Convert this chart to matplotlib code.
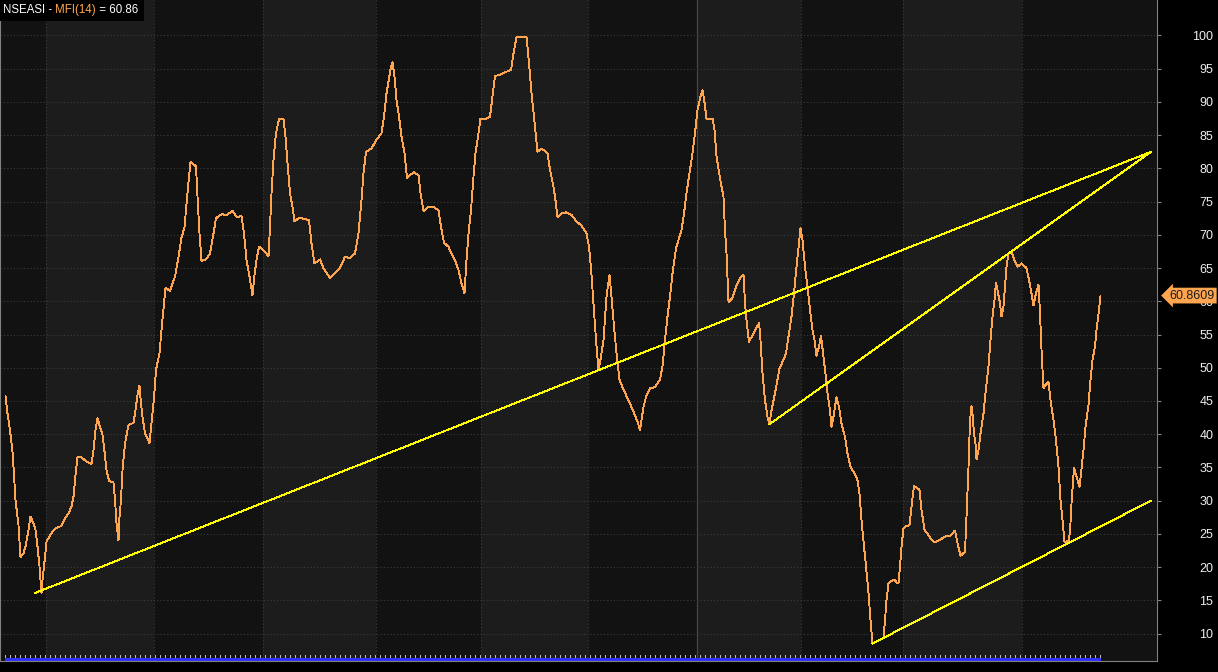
import numpy as np
import matplotlib.pyplot as plt
from matplotlib.patches import Rectangle
from matplotlib.text import Annotation
from matplotlib.transforms import blended_transform_factory

plt.rcParams['font.family'] = ['Liberation Sans', 'DejaVu Sans']

# MFI(14) of NSEASI, vertices: session index (one bar = 1) and value
session = [1.1, 1.5, 2.0, 2.5, 2.8, 3.1, 3.7, 4.1, 4.7, 5.1, 5.7, 6.1, 6.7, 7.1, 7.5, 7.9, 8.3, 8.5, 8.8,
           9.3, 10.0, 11.0, 12.3, 13.0, 13.7, 14.3, 14.7, 15.0, 15.5, 16.3, 17.3, 18.3, 18.7, 19.1,
           19.5, 20.0, 20.5, 20.9, 21.3, 21.8, 22.7, 23.0, 23.3, 23.7, 23.9, 24.2, 24.5, 25.0, 25.7,
           26.7, 27.0, 27.5, 27.9, 28.1, 28.5, 29.0, 29.5, 29.9, 30.3, 30.8, 31.2, 31.9, 32.3, 32.8,
           33.1, 34.0, 34.5, 35.0, 35.7, 36.3, 36.9, 37.3, 37.7, 38.1, 38.9, 39.2, 39.5, 39.9, 40.3,
           41.2, 42.0, 42.7, 43.2, 44.3, 45.3, 46.5, 47.3, 48.3, 48.8, 49.3, 49.9, 50.5, 50.9, 51.3,
           51.8, 52.7, 53.7, 54.0, 54.3, 54.7, 55.2, 55.8, 56.7, 57.1, 57.5, 58.0, 58.5, 58.9, 59.9,
           60.8, 61.8, 62.3, 62.9, 64.0, 64.7, 66.0, 67.0, 68.0, 69.0, 70.0, 71.0, 71.7, 72.3, 72.7,
           73.2, 74.3, 75.3, 76.3, 76.8, 77.3, 78.2, 78.5, 78.9, 79.3, 79.8, 80.3, 80.9, 81.4, 82.0,
           82.8, 83.7, 84.1, 84.7, 85.7, 86.7, 87.7, 88.2, 88.8, 89.7, 90.3, 91.0, 91.7, 92.3, 92.9,
           93.3, 93.7, 94.2, 94.7, 95.1, 95.7, 96.1, 97.1, 98.0, 98.5, 99.0, 100.0, 101.1, 102.2,
           102.7, 103.3, 105.3, 105.8, 106.3, 107.0, 107.5, 108.3, 109.5, 110.0, 110.7, 111.1, 111.5,
           112.3, 113.3, 114.3, 115.3, 116.3, 117.3, 117.8, 118.2, 118.7, 119.2, 119.7, 120.1, 120.7,
           121.3, 121.9, 122.3, 122.8, 123.3, 123.9, 124.7, 125.7, 126.7, 127.5, 128.0, 128.7, 129.3,
           130.0, 131.0, 132.0, 132.5, 133.0, 133.5, 134.0, 134.5, 135.2, 135.8, 136.3, 136.8, 137.3,
           137.9, 138.5, 139.0, 139.5, 140.0, 140.5, 140.8, 141.3, 142.5, 142.9, 143.3, 144.0, 144.7,
           145.0, 145.3, 145.7, 146.5, 147.2, 148.0, 148.7, 149.0, 149.3, 149.8, 150.7, 151.8, 152.0,
           152.5, 153.0, 153.5, 153.9, 154.3, 155.0, 155.9, 156.7, 157.2, 157.7, 158.3, 158.8, 159.3,
           159.8, 160.1, 160.5, 161.0, 161.5, 162.0, 162.5, 162.9, 163.3, 163.8, 164.2, 164.5, 165.0,
           165.5, 166.0, 166.3, 166.8, 167.3, 167.8, 168.3, 169.0, 169.5, 170.1, 170.9, 171.5, 171.9,
           172.3, 172.8, 173.2, 173.7, 174.1, 174.5, 175.3, 176.7, 177.0, 177.3, 177.7, 178.3, 178.9,
           179.3, 179.7, 180.0, 180.3, 180.7, 181.3, 181.9, 182.3, 182.8, 183.3, 183.9, 184.3, 184.9,
           185.7, 186.3, 187.0, 188.0, 189.0, 190.0, 191.0, 191.5, 192.1, 193.0, 193.3, 193.7, 194.0,
           194.3, 194.5, 194.8, 195.1, 195.3, 195.7, 196.1, 196.7, 197.1, 197.7, 198.1, 198.5, 198.9,
           199.2, 199.5, 200.0, 200.3, 200.7, 201.0, 201.3, 201.7, 202.3, 202.9, 203.5, 204.3, 205.3,
           205.8, 206.3, 206.7, 207.2, 207.7, 208.0, 208.3, 208.7, 209.1, 209.7, 210.1, 210.7, 211.2,
           211.7, 212.1, 212.5, 212.9, 213.7, 214.0, 214.3, 214.8, 215.2, 215.5, 215.9, 216.2, 216.7,
           217.1, 217.7, 218.1, 218.5, 219.0, 219.3, 219.8, 220.1]
mfi = [45.7, 43.1, 40.6, 37.4, 33.9, 30.1, 26.3, 21.5, 22.1, 23.1, 25.6, 27.6, 26.6, 25.6, 23.1, 20.1, 16.1, 18.1, 20.1,
       23.8, 24.8, 25.8, 26.2, 27.3, 28.1, 29.1, 30.6, 33.1, 36.6, 36.5, 35.9, 35.5, 37.6, 40.6,
       42.4, 41.1, 39.9, 37.4, 34.6, 33.0, 32.7, 30.1, 26.6, 24.0, 27.6, 30.1, 34.6, 38.6, 41.4,
       41.7, 43.1, 45.9, 47.3, 45.4, 42.6, 40.1, 39.4, 38.6, 41.6, 45.4, 49.7, 52.2, 55.7, 59.6,
       62.0, 61.6, 62.7, 63.7, 66.7, 69.6, 71.1, 74.7, 78.0, 81.0, 80.5, 80.3, 75.7, 70.2, 66.1,
       66.3, 67.2, 70.2, 72.5, 73.1, 73.0, 73.6, 72.7, 72.8, 70.2, 66.2, 63.7, 60.9, 64.0, 66.2,
       68.2, 67.7, 66.8, 71.2, 76.3, 81.3, 85.3, 87.4, 87.4, 84.8, 80.8, 76.3, 74.2, 72.0, 72.6,
       72.4, 72.2, 68.7, 65.7, 66.3, 65.0, 63.5, 64.2, 65.0, 66.7, 66.5, 67.2, 70.2, 75.2, 79.3,
       82.5, 83.0, 84.3, 85.3, 87.8, 91.3, 95.3, 96.0, 93.8, 90.3, 87.8, 84.8, 82.3, 78.6, 79.0,
       79.4, 79.0, 76.3, 73.6, 74.2, 74.2, 73.7, 71.2, 68.8, 68.2, 67.2, 66.2, 64.7, 62.7, 61.2,
       66.2, 70.2, 73.7, 78.8, 82.3, 85.3, 87.5, 87.4, 87.8, 90.8, 93.9, 94.1, 94.5, 94.8,
       97.3, 99.8, 99.8, 95.8, 91.3, 86.3, 82.5, 83.0, 82.3, 79.8, 77.2, 75.2, 72.7,
       73.2, 73.4, 73.0, 72.0, 71.4, 70.2, 68.2, 65.0, 59.7, 54.2, 49.7, 51.2, 54.2,
       60.7, 64.0, 60.7, 56.2, 52.2, 48.2, 46.7, 45.1, 43.4, 41.9, 40.6, 44.1, 45.9,
       46.9, 47.1, 48.2, 50.2, 54.2, 57.7, 60.7, 64.2, 68.0, 69.5, 70.7, 73.2, 76.3,
       79.3, 82.3, 85.3, 88.8, 90.5, 91.8, 90.5, 87.5, 87.5, 85.8, 81.8, 78.5, 75.7,
       70.7, 67.2, 59.9, 60.5, 62.2, 63.5, 64.0, 59.7, 57.2, 53.9, 55.2, 56.7, 55.3,
       49.2, 45.1, 42.6, 41.5, 43.6, 46.2, 49.9, 51.2, 52.2, 54.7, 57.7, 61.2, 65.2,
       68.7, 71.0, 69.2, 65.2, 62.2, 58.7, 55.7, 54.2, 51.8, 53.2, 54.8, 52.9, 49.7,
       46.2, 43.6, 41.1, 43.1, 45.6, 44.1, 41.6, 39.6, 37.1, 35.1, 34.1, 33.1, 31.1,
       27.1, 23.1, 20.1, 16.1, 12.0, 8.5, 8.8, 9.3, 12.0, 15.0, 17.6, 17.9, 18.1,
       17.7, 17.6, 20.1, 23.1, 25.8, 26.2, 26.3, 29.1, 32.2, 32.0, 31.6, 28.6, 25.6,
       24.8, 24.1, 23.7, 24.1, 24.6, 24.7, 25.5, 23.6, 21.7, 22.3, 27.6, 35.1, 42.1,
       44.2, 43.1, 40.1, 38.6, 36.2, 37.6, 40.1, 43.1, 46.2, 50.2, 54.2, 57.7, 60.2,
       62.8, 61.7, 59.7, 57.7, 59.2, 62.2, 65.2, 67.2, 67.4, 66.2, 65.2, 65.7, 65.0,
       63.2, 61.2, 59.4, 61.2, 62.5, 58.2, 52.7, 46.9, 47.4, 47.9, 45.1, 42.1, 39.1,
       35.1, 30.1, 27.1, 23.7, 24.0, 25.3, 29.6, 34.9, 33.9, 33.1, 32.1, 34.1, 37.6,
       41.1, 44.4, 48.2, 51.2, 53.2, 55.7, 58.7, 60.86]
last_value = 60.8609

# hand-drawn trend lines (start, end)
trend_x = [[7.0, 230.2], [153.9, 230.2], [174.5, 230.2]]
trend_y = [[16.1, 82.5], [41.5, 82.5], [8.5, 30.0]]

# month separators (session index); the one at 139.4 is the new year
month_edges = [9.2, 30.8, 52.6, 75.2, 96.2, 117.6, 139.4, 160.2, 180.6, 204.4]
year_edge = 139.4
y_ticks = list(range(10, 101, 5))
n_bars = 220

x_max = 231.4
fig = plt.figure(figsize=(12.18, 6.72), dpi=100, facecolor='black')
ax = fig.add_axes([0.0, 11 / 672, 1157 / 1218, 661 / 672])
ax.set_xlim(0, x_max)
ax.set_ylim(5.87, 105.34)

# alternating month bands
edges = [0] + month_edges + [x_max]
for i in range(len(edges) - 1):
    ax.axvspan(edges[i], edges[i + 1], color='#121212' if i % 2 == 0 else '#1c1c1c', lw=0, zorder=0)

ax.set_yticks(y_ticks)
ax.set_xticks(month_edges)
ax.grid(True, color='#3c3c3c', lw=0.8, ls=(0, (1, 2)), zorder=1)
ax.axvline(year_edge, color='#4a4a4a', lw=0.9, zorder=1)

ax.plot(session, mfi, color='#ffa54f', lw=0.65, antialiased=False, zorder=3)
for xs, ys in zip(trend_x, trend_y):
    ax.plot(xs, ys, color='#ffff00', lw=0.65, antialiased=False, zorder=4)

# small bar strip along the bottom
trans = blended_transform_factory(ax.transData, ax.transAxes)
bars = np.arange(1, n_bars + 1)
ax.vlines(bars, 0.004, 0.0085, colors='#b8b8b8', lw=0.72, transform=trans, antialiased=False, zorder=5)
ax.hlines(0.0015, 1, n_bars, colors='#c81818', lw=0.72, transform=trans, antialiased=False, zorder=5)
ax.hlines(0.0035, 1, n_bars, colors='#3030ff', lw=1.0, transform=trans, antialiased=False, zorder=6)

for s in ['left', 'right', 'bottom']:
    ax.spines[s].set_color('#808080')
    ax.spines[s].set_linewidth(0.8)
ax.spines['top'].set_visible(False)

ax.yaxis.tick_right()
ax.tick_params(axis='y', direction='out', length=3, color='#808080', labelcolor='#eeeeee',
               labelsize=9, pad=37.5)
for lab in ax.get_yticklabels():
    lab.set_horizontalalignment('right')
ax.tick_params(axis='x', length=0, labelbottom=False)

# value tag on the right axis
ax.annotate(f'{last_value:.4f}', xy=(1.0, last_value), xycoords=blended_transform_factory(ax.transAxes, ax.transData),
            xytext=(9, 0), textcoords='offset points', ha='left', va='center', fontsize=9, color='#1a1a1a',
            bbox=dict(boxstyle='larrow,pad=0.15', fc='#ffa54f', ec='none'), annotation_clip=False, zorder=10)

# title: NSEASI - MFI(14) = 60.86 on a black patch
fig.patches.append(Rectangle((0, 1 - 21 / 672), 144 / 1218, 21 / 672, transform=fig.transFigure,
                             facecolor='black', edgecolor='none', zorder=20))
t1 = fig.text(3 / 1218, 1 - 10 / 672, 'NSEASI - ', color='white', fontsize=8.3, va='center', ha='left', zorder=21)
t2 = Annotation('MFI(14)', xy=(1, 0.5), xycoords=t1, va='center', ha='left', color='#ffa54f',
                fontsize=8.3, zorder=21)
fig.add_artist(t2)
t3 = Annotation(f' = {last_value:.2f}', xy=(1, 0.5), xycoords=t2, va='center', ha='left', color='white',
                fontsize=8.3, zorder=21)
fig.add_artist(t3)

fig.savefig('out.png', dpi=100, facecolor='black')
